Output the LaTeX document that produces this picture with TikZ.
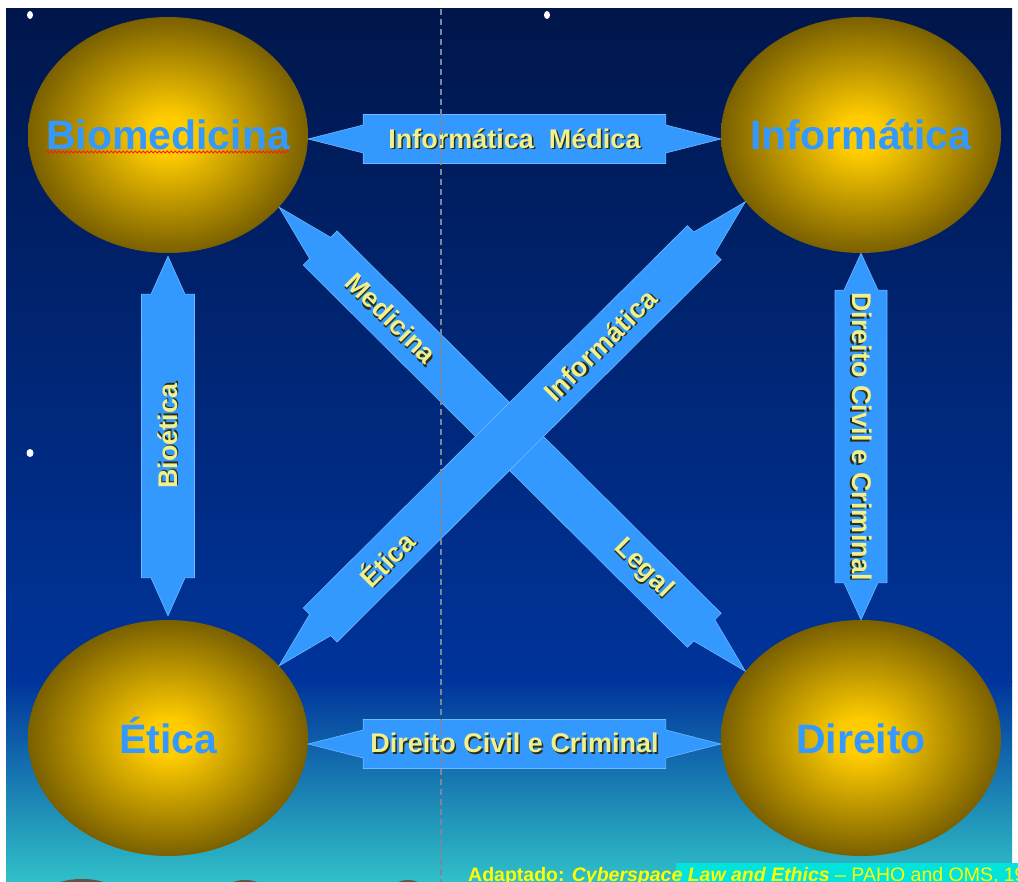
\documentclass[tikz,border=0pt]{standalone}
\usepackage{fontspec}
\setmainfont{Liberation Sans}
\usetikzlibrary{shapes.geometric,calc,decorations.pathmorphing}

\definecolor{bgtop}{RGB}{0,22,75}
\definecolor{bgmid}{RGB}{0,52,155}
\definecolor{bgbot}{RGB}{48,192,200}
\definecolor{goldc}{RGB}{255,204,0}
\definecolor{goldo}{RGB}{122,96,0}
\definecolor{arrowblue}{RGB}{51,153,255}
\definecolor{arrowedge}{RGB}{110,185,255}
\definecolor{balltext}{RGB}{51,153,255}
\definecolor{lblyellow}{RGB}{240,240,140}
\definecolor{lblshadow}{RGB}{45,45,20}
\definecolor{dashgray}{RGB}{125,135,155}
\definecolor{refyellow}{RGB}{255,255,0}
\definecolor{refhl}{RGB}{0,228,220}
\definecolor{bumpc}{RGB}{95,85,75}
\pgfdeclareradialshading{goldball}{\pgfpoint{0bp}{0bp}}{color(0bp)=(goldc); color(4bp)=(goldc); color(25bp)=(goldo); color(50bp)=(goldo)}

\newcommand\shd[1]{\leavevmode\rlap{\kern1.5pt\raisebox{-1.5pt}{\textcolor{lblshadow}{#1}}}#1}

\newcommand\dbarrow[5]{%
  \coordinate (tA) at (#1);
  \coordinate (tB) at (#2);
  \coordinate (hA) at ($(tA)!#3!(tB)$);
  \coordinate (hB) at ($(tB)!#3!(tA)$);
  \draw[arrowbody] (tA) -- ($(hA)!#4!90:(tB)$) -- ($(hA)!#5!90:(tB)$)
    -- ($(hB)!#5!-90:(tA)$) -- ($(hB)!#4!-90:(tA)$) -- (tB)
    -- ($(hB)!#4!90:(tA)$) -- ($(hB)!#5!90:(tA)$)
    -- ($(hA)!#5!-90:(tB)$) -- ($(hA)!#4!-90:(tB)$) -- cycle;
}

\tikzset{
  ball/.style={ellipse, minimum width=280pt, minimum height=236pt, inner sep=0pt,
    shade, shading=goldball},
  balllbl/.style={text=balltext, inner sep=0pt,
    font=\fontsize{41}{49}\selectfont\bfseries, text height=30pt, text depth=0pt},
  arrowbody/.style={fill=arrowblue, draw=arrowedge, line width=0.6pt, line join=miter},
  lbl/.style={font=\fontsize{27}{32}\selectfont\bfseries, text=lblyellow, inner sep=0pt},
}

\begin{document}
\begin{tikzpicture}[x=1pt,y=-1pt]
\useasboundingbox (0,0) rectangle (1018,882);
\fill[white] (0,0) rectangle (1018,882);
\shade[top color=bgtop, bottom color=bgmid] (6,9) rectangle (1012,682);
\shade[top color=bgmid, bottom color=bgbot] (6,681) rectangle (1012,882);

% small dark shapes at the bottom edge
\fill[bumpc] (82,889) ellipse (30 and 10);
\fill[bumpc] (245,890) ellipse (20 and 10);
\fill[bumpc] (408,890) ellipse (16 and 10);

% balls
\node[ball, label={[balllbl]center:Biomedicina}] (bio) at (168,135) {};
\node[ball, label={[balllbl]center:Informática}] (inf) at (861,135) {};
\node[ball, label={[balllbl]center:Ética}] (eti) at (168,738) {};
\node[ball, label={[balllbl]center:Direito}] (dir) at (861,738) {};

% spell-check squiggle
\draw[red!90!white, line width=0.8pt, decorate, decoration={snake, amplitude=1.1pt, segment length=4pt}]
  ([xshift=-122pt,yshift=-17pt]bio.center) -- ++(244,0);

% arrows
\dbarrow{[yshift=-4pt]bio.east}{[yshift=-4pt]inf.west}{55pt}{14pt}{24.5pt}
\dbarrow{[yshift=-6pt]eti.east}{[yshift=-6pt]dir.west}{55pt}{14pt}{24.5pt}
\dbarrow{[yshift=-3pt]bio.south}{[yshift=4pt]eti.north}{38pt}{17pt}{26.5pt}
\dbarrow{inf.south}{dir.north}{37pt}{17pt}{26pt}
\dbarrow{bio.-33}{dir.150}{58pt}{15pt}{24pt}
\dbarrow{eti.33}{inf.-150}{58pt}{15pt}{24pt}

% labels
\path ([yshift=-4pt]bio.east) -- node[lbl, midway] {\shd{Informática\ \ Médica}} ([yshift=-4pt]inf.west);
\path ([yshift=-6pt]eti.east) -- node[lbl, midway] {\shd{Direito Civil e Criminal}} ([yshift=-6pt]dir.west);
\path ([yshift=-3pt]bio.south) -- node[lbl, midway, rotate=90] {\shd{Bioética}} ([yshift=4pt]eti.north);
\path (inf.south) -- node[lbl, midway, rotate=-90] {\shd{Direito Civil e Criminal}} (dir.north);
\path (bio.-33) -- node[lbl, sloped, pos=0.24] {\shd{Medicina}} node[lbl, sloped, pos=0.78] {\shd{Legal}} (dir.150);
\path (eti.33) -- node[lbl, sloped, pos=0.23] {\shd{Ética}} node[lbl, sloped, pos=0.69] {\shd{Informática}} (inf.-150);

% dashed guide
\coordinate (dtop) at (441,9);
\coordinate (dbot) at (441,882);
\draw[dashgray, line width=1.5pt, dash pattern=on 6pt off 4pt] (dtop) -- (dbot);

% white dots
\fill[white] (30,15) ellipse (3 and 4);
\fill[white] (547,15) ellipse (3 and 4);
\fill[white] (30,453) ellipse (3.5 and 4);

% source line
\fill[refhl] (676,863) rectangle (1018,882);
\node[anchor=base west, inner sep=0pt, text=refyellow, font=\fontsize{19.5}{22}\selectfont] (src) at (468,881)
  {\textbf{Adaptado:} \textbf{\textit{Cyberspace Law and Ethics}} – PAHO and OMS, 19};
\end{tikzpicture}
\end{document}
